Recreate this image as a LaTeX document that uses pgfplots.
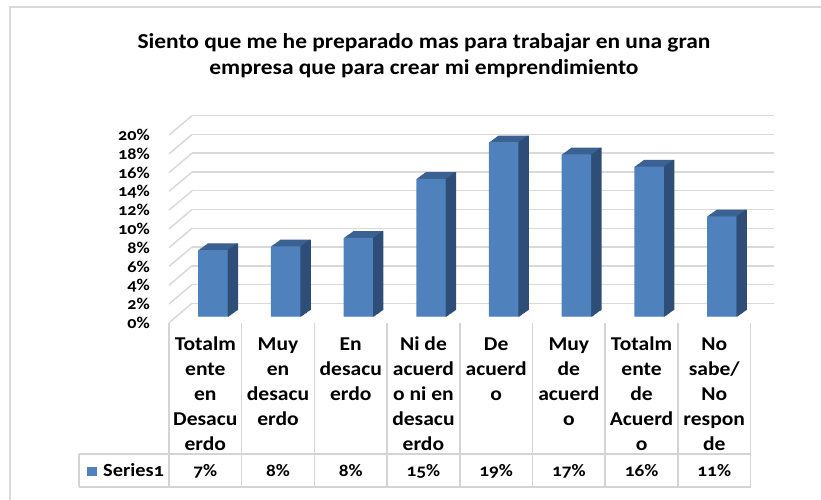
\documentclass[border=0pt]{standalone}
\usepackage{fontspec}
\setmainfont{Carlito}[Numbers=OldStyle, FakeStretch=1.1]
\usepackage{pgfplots}
\usepackage{pgfplotstable}
\pgfplotsset{compat=1.18}
\definecolor{frontc}{RGB}{79,129,189}
\definecolor{sidec}{RGB}{46,78,120}
\definecolor{topc}{RGB}{58,97,146}
\definecolor{gridc}{RGB}{217,217,217}
\definecolor{tabc}{RGB}{212,212,212}

\pgfplotstableread{
x y
0 7.1
1 7.5
2 8.4
3 14.7
4 18.6
5 17.3
6 16.0
7 10.7
}\datatable

\pgfplotsset{
  common/.style={scale only axis, width=581.6pt, height=187.6pt,
    xmin=-0.5, xmax=7.5, ymin=0, ymax=20, anchor=south west,
    axis line style={draw=none}, tick style={draw=none}, clip=false}
}

\begin{document}
\begin{tikzpicture}
\useasboundingbox (0pt,0pt) rectangle (821pt,499pt);
% frame
\draw[gridc, line width=2pt] (10pt,-5pt) -- (10pt,492pt) -- (830pt,492pt);
% title
\node[anchor=base, inner sep=0pt, font=\bfseries\fontsize{21.3}{24}\selectfont] at (424pt,450.7pt) {Siento que me he preparado mas para trabajar en una gran};
\node[anchor=base, inner sep=0pt, font=\bfseries\fontsize{21.3}{24}\selectfont] at (424pt,424pt) {empresa que para crear mi emprendimiento};

% back wall
\begin{axis}[common, at={(192pt,195.7pt)}, xtick=\empty, ytick={0,2,...,20}, yticklabels={},
  ymajorgrids, grid style={gridc, line width=1.5pt}]
\pgfplotsinvokeforeach{0,2,...,20}{\draw[gridc, line width=1.5pt] (axis cs:-0.5,#1) -- ++(-23pt,-19.4pt);}
\end{axis}

% front plane: tick labels and categories
\begin{axis}[common, at={(169pt,176.3pt)},
  ytick={0,2,...,20}, yticklabel={\pgfmathprintnumber{\tick}\%},
  /pgf/number format/assume math mode=true,
  yticklabel style={anchor=east, inner sep=0pt, xshift=-19pt, font=\bfseries\fontsize{16.5}{20}\selectfont},
  xtick={0,...,7},
  xticklabels={{\strut Totalm\\ente\\en\\Desacu\\erdo},{\strut Muy\\en\\desacu\\erdo},{\strut En\\desacu\\erdo},{\strut Ni de\\acuerd\\o ni en\\desacu\\erdo},{\strut De\\acuerd\\o},{\strut Muy\\de\\acuerd\\o},{\strut Totalm\\ente\\de\\Acuerd\\o},{\strut No\\sabe/\\No\\respon\\de}},
  xticklabel style={anchor=north, inner sep=0pt, align=center, yshift=-9.8pt, font=\bfseries\fontsize{19.6}{25}\selectfont}]
\end{axis}

% bars
\begin{axis}[common, at={(176.5pt,182.3pt)}, xtick=\empty, ytick=\empty]
\pgfplotsinvokeforeach{1,...,12}{
  \addplot[ybar, bar width=29.4pt, bar shift=0pt, fill=topc, draw=none, xshift=#1*0.775pt, yshift=#1*0.558pt] table[x=x,y=y]{\datatable};
}
\pgfplotsinvokeforeach{0,...,12}{
  \addplot[ybar, bar width=1.4pt, bar shift=15.2pt, fill=sidec, draw=none, xshift=#1*0.775pt, yshift=#1*0.558pt] table[x=x,y=y]{\datatable};
}
\addplot[ybar, bar width=29.4pt, bar shift=0pt, fill=frontc, draw=none] table[x=x,y=y]{\datatable};
\end{axis}

% data table
\foreach \i in {0,...,8}{
  \pgfmathsetmacro\xx{169+72.7*\i}
  \draw[tabc, line width=1.5pt] (\xx pt,176pt) -- (\xx pt,12pt);
}
\draw[tabc, line width=1.5pt] (79pt,45pt) -- (750.6pt,45pt);
\draw[tabc, line width=1.5pt] (79pt,12pt) -- (750.6pt,12pt);
\draw[tabc, line width=1.5pt] (79pt,12pt) -- (79pt,45pt);
\foreach \i/\v in {0/7,1/8,2/8,3/15,4/19,5/17,6/16,7/11}{
  \pgfmathsetmacro\xx{205.35+72.7*\i}
  \node[anchor=base, inner sep=0pt, font=\bfseries\fontsize{17.5}{20}\selectfont] at (\xx pt,23pt) {\v\%};
}
\fill[frontc] (87pt,23pt) rectangle (97pt,32pt);
\node[anchor=base west, inner sep=0pt, font=\bfseries\fontsize{18.5}{20}\selectfont] at (103pt,23pt) {Series1};
\end{tikzpicture}
\end{document}
